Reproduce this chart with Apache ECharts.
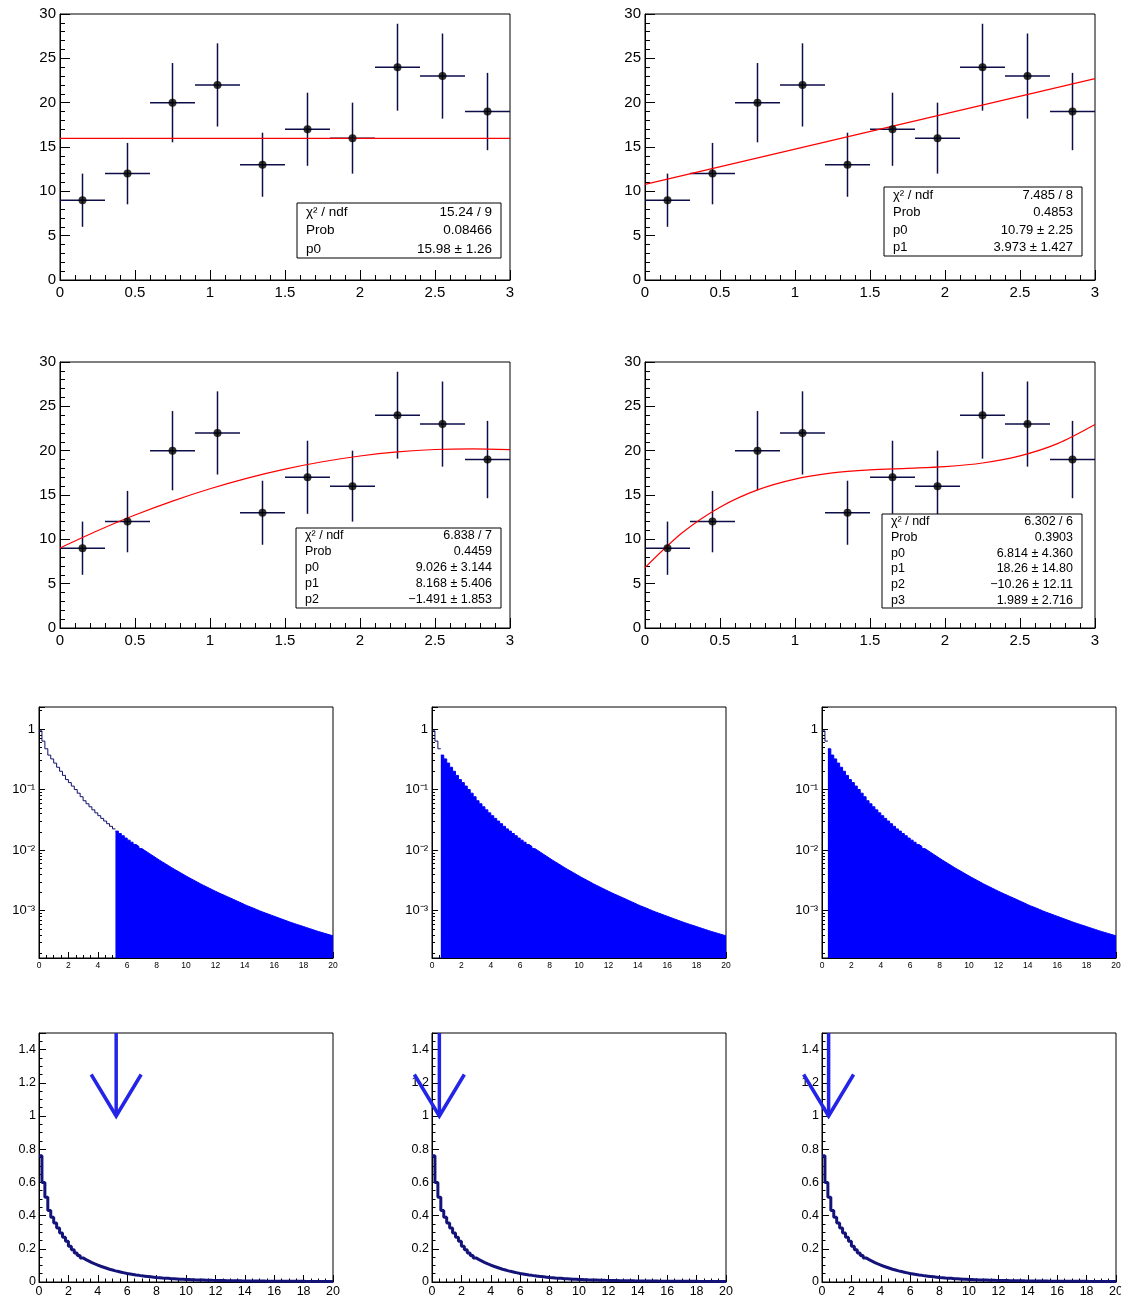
<!DOCTYPE html>
<html>
<head>
<meta charset="utf-8">
<script src="https://cdn.jsdelivr.net/npm/echarts@6/dist/echarts.min.js"></script>
<style>
html,body{margin:0;padding:0;background:#fff;}
#main{width:1121px;height:1298px;}
</style>
</head>
<body>
<div id="main"></div>
<script>
// ---- data ----
var binEdges = [0, 0.3, 0.6, 0.9, 1.2, 1.5, 1.8, 2.1, 2.4, 2.7, 3.0];
var binCenters = [0.15, 0.45, 0.75, 1.05, 1.35, 1.65, 1.95, 2.25, 2.55, 2.85];
var counts = [9, 12, 20, 22, 13, 17, 16, 24, 23, 19];
var countErrs = [3.00, 3.46, 4.47, 4.69, 3.61, 4.12, 4.00, 4.90, 4.80, 4.36];

// fit curves (sampled)
var fitLineX = [0, 3];
var fitPol0 = [15.98, 15.98];
var fitPol1 = [10.79, 22.71];
var fitCurveX = [0, 0.25, 0.5, 0.75, 1, 1.25, 1.5, 1.75, 2, 2.25, 2.5, 2.75, 3];
var fitPol2 = [9.03, 10.97, 12.74, 14.31, 15.70, 16.91, 17.92, 18.75, 19.40, 19.86, 20.13, 20.21, 20.11];
var fitPol3 = [6.81, 10.77, 13.63, 15.58, 16.80, 17.49, 17.83, 18.01, 18.21, 18.61, 19.42, 20.80, 22.96];

// stat boxes
var stats0 = [["\u03c7\u00b2 / ndf", "15.24 / 9"], ["Prob", "0.08466"], ["p0", "15.98 \u00b1 1.26"]];
var stats1 = [["\u03c7\u00b2 / ndf", "7.485 / 8"], ["Prob", "0.4853"], ["p0", "10.79 \u00b1 2.25"], ["p1", "3.973 \u00b1 1.427"]];
var stats2 = [["\u03c7\u00b2 / ndf", "6.838 / 7"], ["Prob", "0.4459"], ["p0", "9.026 \u00b1 3.144"], ["p1", "8.168 \u00b1 5.406"], ["p2", "\u22121.491 \u00b1 1.853"]];
var stats3 = [["\u03c7\u00b2 / ndf", "6.302 / 6"], ["Prob", "0.3903"], ["p0", "6.814 \u00b1 4.360"], ["p1", "18.26 \u00b1 14.80"], ["p2", "\u221210.26 \u00b1 12.11"], ["p3", "1.989 \u00b1 2.716"]];

// histograms: 100 bins of 0.2 on [0,20]
var histBinWidth = 0.2;
var logHist = [
  0.93, 0.63, 0.47, 0.37, 0.32,
  0.273, 0.233, 0.200, 0.171, 0.146,
  0.130, 0.114, 0.100, 0.087, 0.076,
  0.0653, 0.0582, 0.0519, 0.0462, 0.0412,
  0.0370, 0.0334, 0.0302, 0.0273, 0.0247,
  0.0224, 0.0206, 0.0188, 0.0173, 0.0158,
  0.0146, 0.0135, 0.0124, 0.0115, 0.0106,
  0.00986, 0.00916, 0.00851, 0.00791, 0.00735,
  0.00684, 0.00638, 0.00596, 0.00556, 0.00519,
  0.00485, 0.00455, 0.00427, 0.00400, 0.00375,
  0.00352, 0.00332, 0.00313, 0.00294, 0.00277,
  0.00262, 0.00248, 0.00234, 0.00222, 0.00210,
  0.00199, 0.00189, 0.00180, 0.00171, 0.00163,
  0.00155, 0.00147, 0.00140, 0.00133, 0.00126,
  0.00120, 0.00115, 0.00110, 0.00105, 0.00100,
  0.000957, 0.000918, 0.000881, 0.000845, 0.000811,
  0.000778, 0.000746, 0.000716, 0.000687, 0.000659,
  0.000634, 0.000611, 0.000589, 0.000568, 0.000547,
  0.000527, 0.000508, 0.000490, 0.000472, 0.000455,
  0.000440, 0.000426, 0.000412, 0.000399, 0.000386
];
var linHist = [
  0.76, 0.60, 0.51, 0.43, 0.39,
  0.355, 0.325, 0.295, 0.27, 0.245,
  0.215, 0.195, 0.175, 0.16, 0.145,
  0.135, 0.126, 0.117, 0.109, 0.102,
  0.095, 0.089, 0.083, 0.077, 0.072,
  0.067, 0.063, 0.059, 0.055, 0.051,
  0.048, 0.045, 0.042, 0.040, 0.037,
  0.035, 0.033, 0.031, 0.029, 0.027,
  0.026, 0.024, 0.023, 0.022, 0.020,
  0.019, 0.018, 0.017, 0.016, 0.015,
  0.0145, 0.014, 0.013, 0.0125, 0.012,
  0.0115, 0.011, 0.0105, 0.010, 0.0096,
  0.0092, 0.0088, 0.0085, 0.0082, 0.0079,
  0.0076, 0.0073, 0.0071, 0.0068, 0.0066,
  0.0064, 0.0062, 0.0060, 0.0058, 0.0056,
  0.0055, 0.0053, 0.0052, 0.0050, 0.0049,
  0.0047, 0.0046, 0.0045, 0.0044, 0.0043,
  0.0042, 0.0041, 0.0040, 0.0039, 0.0038,
  0.0037, 0.0036, 0.0035, 0.0035, 0.0034,
  0.0033, 0.0032, 0.0032, 0.0031, 0.0030
];
var fillStartBin = [26, 3, 2];   // first filled bin in the log plots
var arrowX = [5.25, 0.5, 0.45];  // arrow positions in the bottom plots
var arrowTop = 1.5, arrowTip = 1.0, arrowWing = 1.25, arrowHalfWidth = 1.7;

// ---- layout ----
var font = 'Liberation Sans, Arial, Helvetica, sans-serif';
var fitPanels = [
  {left: 60, top: 14, fx: fitLineX, fy: fitPol0, smooth: false, stats: stats0, box: [297, 203, 204, 55], fs: 13.5},
  {left: 645, top: 14, fx: fitLineX, fy: fitPol1, smooth: false, stats: stats1, box: [884, 187, 198, 69], fs: 13},
  {left: 60, top: 362, fx: fitCurveX, fy: fitPol2, smooth: 0.3, stats: stats2, box: [296, 528, 205, 80], fs: 12.5},
  {left: 645, top: 362, fx: fitCurveX, fy: fitPol3, smooth: 0.3, stats: stats3, box: [882, 514, 200, 94], fs: 12.5}
];
var histLefts = [39, 432, 822];

var grids = [], xAxes = [], yAxes = [], series = [], graphics = [];

function frame(left, top, w, h) {
  return {left: left, top: top, width: w, height: h, show: true, borderColor: '#000', borderWidth: 1,
          backgroundColor: 'rgba(0,0,0,0)', containLabel: false, outerBoundsMode: 'none'};
}
function axisBase(gi, tickLen, minorSplit, fs, margin) {
  return {
    gridIndex: gi,
    axisLine: {show: true, onZero: false, lineStyle: {color: '#000', width: 1}},
    axisTick: {show: true, inside: true, length: tickLen, lineStyle: {color: '#000'}},
    minorTick: {show: true, splitNumber: minorSplit, length: tickLen / 2, lineStyle: {color: '#000'}},
    splitLine: {show: false}, minorSplitLine: {show: false},
    axisLabel: {color: '#000', fontSize: fs, fontFamily: font, margin: margin}
  };
}
function xy(xs, ys) {
  return xs.map(function (x, k) { return [x, ys[k]]; });
}
function stepData(vals, from, to) {
  var pts = [];
  for (var i = from; i < to; i++) pts.push([+(i * histBinWidth).toFixed(2), vals[i]]);
  pts.push([+(to * histBinWidth).toFixed(2), vals[to - 1]]);
  return pts;
}
var supMap = {'-': '\u207b', '1': '\u00b9', '2': '\u00b2', '3': '\u00b3', '4': '\u2074'};
function logLabel(v) {
  var e = Math.round(Math.log10(v));
  if (e === 0) return '1';
  return '10' + String(e).split('').map(function (c) { return supMap[c]; }).join('');
}

function errorBarItem(params, api) {
  var xl = api.coord([api.value(2), api.value(1)]);
  var xh = api.coord([api.value(3), api.value(1)]);
  var yl = api.coord([api.value(0), api.value(4)]);
  var yh = api.coord([api.value(0), api.value(5)]);
  var st = {stroke: '#0d0d4a', lineWidth: 1.5};
  return {type: 'group', children: [
    {type: 'line', shape: {x1: xl[0], y1: xl[1], x2: xh[0], y2: xh[1]}, style: st},
    {type: 'line', shape: {x1: yl[0], y1: yl[1], x2: yh[0], y2: yh[1]}, style: st}
  ]};
}
// arrow: [x, top, tip, wing, halfWidth]
function arrowItem(params, api) {
  var x = api.value(0), top = api.value(1), tip = api.value(2), wing = api.value(3), hw = api.value(4);
  var st = {stroke: '#2424e8', lineWidth: 3.5, fill: null, lineJoin: 'miter'};
  return {type: 'group', children: [
    {type: 'line', shape: {x1: api.coord([x, top])[0], y1: api.coord([x, top])[1],
                           x2: api.coord([x, tip])[0], y2: api.coord([x, tip])[1]}, style: st},
    {type: 'polyline', shape: {points: [api.coord([x - hw, wing]), api.coord([x, tip]), api.coord([x + hw, wing])]}, style: st}
  ]};
}

var errData = counts.map(function (c, k) {
  return [binCenters[k], c, binEdges[k], binEdges[k + 1], c - countErrs[k], c + countErrs[k]];
});

// ---- fit panels ----
fitPanels.forEach(function (p, i) {
  grids.push(frame(p.left, p.top, 450, 266));
  var xa = axisBase(i, 10, 5, 15, 5);
  xa.type = 'value'; xa.min = 0; xa.max = 3; xa.interval = 0.5;
  xAxes.push(xa);
  var ya = axisBase(i, 10, 5, 15, 4);
  ya.type = 'value'; ya.min = 0; ya.max = 30; ya.interval = 5;
  yAxes.push(ya);

  series.push({type: 'custom', xAxisIndex: i, yAxisIndex: i, data: errData,
               encode: {x: 0, y: 1}, renderItem: errorBarItem, z: 2, silent: true});
  series.push({type: 'scatter', xAxisIndex: i, yAxisIndex: i, data: xy(binCenters, counts),
               symbol: 'circle', symbolSize: 8, itemStyle: {color: '#000'}, z: 4, silent: true});
  series.push({type: 'line', xAxisIndex: i, yAxisIndex: i, data: xy(p.fx, p.fy), smooth: p.smooth,
               showSymbol: false, lineStyle: {color: '#ff0000', width: 1.2}, z: 3, silent: true});

  // stat box
  var b = p.box, rowH = b[3] / p.stats.length;
  graphics.push({type: 'rect', shape: {x: b[0], y: b[1], width: b[2], height: b[3]},
                 style: {fill: '#fff', stroke: '#000', lineWidth: 1}, z: 100});
  p.stats.forEach(function (row, r) {
    var cy = b[1] + rowH * (r + 0.5);
    graphics.push({type: 'text', x: b[0] + 9, y: cy, z: 101,
      style: {text: row[0], fill: '#000', font: p.fs + 'px ' + font,
              align: 'left', textAlign: 'left', verticalAlign: 'middle', textVerticalAlign: 'middle'}});
    graphics.push({type: 'text', x: b[0] + b[2] - 9, y: cy, z: 101,
      style: {text: row[1], fill: '#000', font: p.fs + 'px ' + font,
              align: 'right', textAlign: 'right', verticalAlign: 'middle', textVerticalAlign: 'middle'}});
  });
});

// ---- log histograms ----
histLefts.forEach(function (left, k) {
  var gi = 4 + k;
  grids.push(frame(left, 707, 294, 251));
  var xa = axisBase(gi, 6, 4, 8.5, 3);
  xa.type = 'value'; xa.min = 0; xa.max = 20; xa.interval = 2;
  xAxes.push(xa);
  var ya = axisBase(gi, 6, 9, 13, 4);
  ya.type = 'log'; ya.logBase = 10; ya.min = 1.66e-4; ya.max = 2.3;
  ya.axisLabel.formatter = logLabel;
  ya.axisLabel.showMinLabel = false; ya.axisLabel.showMaxLabel = false;
  yAxes.push(ya);

  var fs = fillStartBin[k];
  series.push({type: 'line', xAxisIndex: gi, yAxisIndex: gi, step: 'end', data: stepData(logHist, 0, fs),
               showSymbol: false, lineStyle: {color: '#10106e', width: 1}, silent: true, z: 3});
  series.push({type: 'line', xAxisIndex: gi, yAxisIndex: gi, step: 'end', data: stepData(logHist, fs, logHist.length),
               showSymbol: false, lineStyle: {color: '#0000ff', width: 1},
               areaStyle: {color: '#0000ff', opacity: 1, origin: 'start'}, silent: true, z: 2});
});

// ---- linear histograms with arrows ----
histLefts.forEach(function (left, k) {
  var gi = 7 + k;
  grids.push(frame(left, 1033, 294, 249));
  var xa = axisBase(gi, 7, 4, 12.5, 3);
  xa.type = 'value'; xa.min = 0; xa.max = 20; xa.interval = 2;
  xAxes.push(xa);
  var ya = axisBase(gi, 7, 4, 12.5, 3);
  ya.type = 'value'; ya.min = 0; ya.max = 1.5; ya.interval = 0.2;
  ya.axisLabel.showMaxLabel = false;
  yAxes.push(ya);

  series.push({type: 'line', xAxisIndex: gi, yAxisIndex: gi, step: 'end', data: stepData(linHist, 0, linHist.length),
               showSymbol: false, lineStyle: {color: '#13137a', width: 3}, silent: true, z: 2});
  series.push({type: 'custom', xAxisIndex: gi, yAxisIndex: gi, clip: false,
               data: [[arrowX[k], arrowTop, arrowTip, arrowWing, arrowHalfWidth]],
               encode: {x: 0, y: 2}, renderItem: arrowItem, silent: true, z: 5});
});

var chart = echarts.init(document.getElementById('main'), null, {renderer: 'canvas'});
chart.setOption({
  backgroundColor: '#fff',
  animation: false,
  grid: grids,
  xAxis: xAxes,
  yAxis: yAxes,
  series: series,
  graphic: graphics
});
</script>
</body>
</html>
